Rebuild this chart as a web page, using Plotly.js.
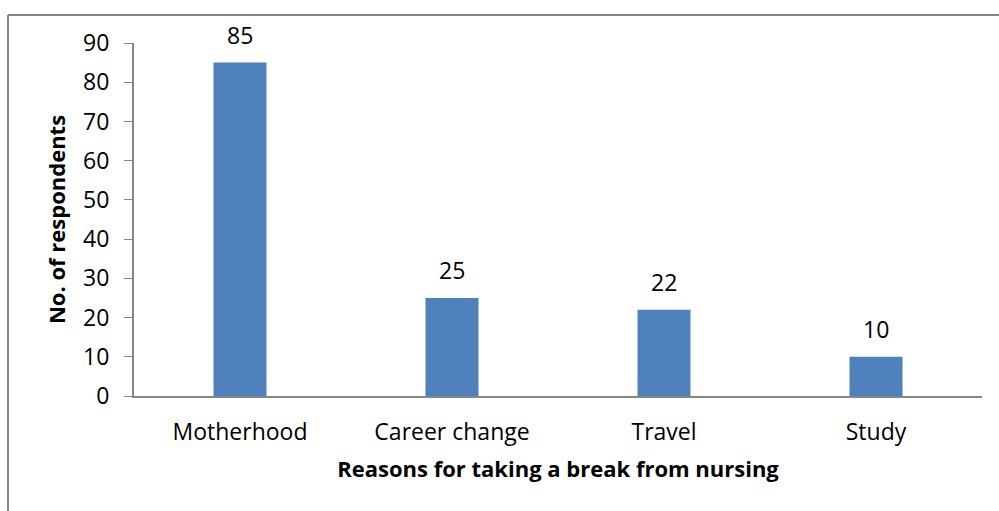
<!DOCTYPE html>
<html>
<head>
<meta charset="utf-8">
<script src="https://cdn.plot.ly/plotly-3.0.1.min.js"></script>
<style>html,body{margin:0;padding:0;background:#fff;}#chart{width:999px;height:511px;}</style>
</head>
<body>
<div id="chart"></div>
<script>
const categories = ["Motherhood", "Career change", "Travel", "Study"];
const respondents = [85, 25, 22, 10];
const yTickValues = [0, 10, 20, 30, 40, 50, 60, 70, 80, 90];

const FONT = "'Open Sans', sans-serif";

const trace = {
  type: "bar",
  x: categories,
  y: respondents,
  marker: {color: "#4F81BD", line: {width: 0}},
  hoverinfo: "none"
};

const labels = categories.map((c, i) => ({
  x: c, y: respondents[i], xref: "x", yref: "y",
  text: String(respondents[i]), showarrow: false,
  yanchor: "bottom", yshift: 10,
  font: {family: FONT, size: 23, color: "#000"}
}));

const L = 134, R = 982, T = 43, B = 396, W = 999, H = 511;
const px = v => (v - L) / (R - L);
const py = v => (B - v) / (B - T);

const layout = {
  width: W, height: H,
  margin: {l: L, r: W - R, t: T, b: H - B, pad: 0},
  paper_bgcolor: "#fff", plot_bgcolor: "#fff",
  bargap: 0.75,
  showlegend: false,
  font: {family: FONT, size: 23, color: "#000"},
  annotations: labels,
  xaxis: {
    type: "category",
    showline: true, linecolor: "#868686", linewidth: 2,
    ticks: "", showgrid: false, zeroline: false,
    tickfont: {family: FONT, size: 23, color: "#000"},
    ticklabelstandoff: 14,
    title: {text: "Reasons for taking a break from nursing", font: {family: FONT, size: 22, color: "#000", weight: "bold"}, standoff: 16}
  },
  yaxis: {
    range: [0, 90],
    tickvals: yTickValues,
    ticktext: yTickValues.map(String),
    showline: true, linecolor: "#868686", linewidth: 2,
    ticks: "outside", ticklen: 8, tickcolor: "#868686", tickwidth: 1,
    showgrid: false, zeroline: false,
    tickfont: {family: FONT, size: 23, color: "#000"},
    ticklabelstandoff: 10,
    title: {text: "No. of respondents", font: {family: FONT, size: 22, color: "#000", weight: "bold"}, standoff: 11}
  },
  shapes: [
    {type: "line", xref: "paper", yref: "paper", x0: px(8), x1: px(8), y0: py(15), y1: py(520), line: {color: "#868686", width: 2}},
    {type: "line", xref: "paper", yref: "paper", x0: px(8), x1: px(1010), y0: py(15), y1: py(15), line: {color: "#868686", width: 2}}
  ]
};

Plotly.newPlot("chart", [trace], layout, {displayModeBar: false, staticPlot: true});
</script>
</body>
</html>
